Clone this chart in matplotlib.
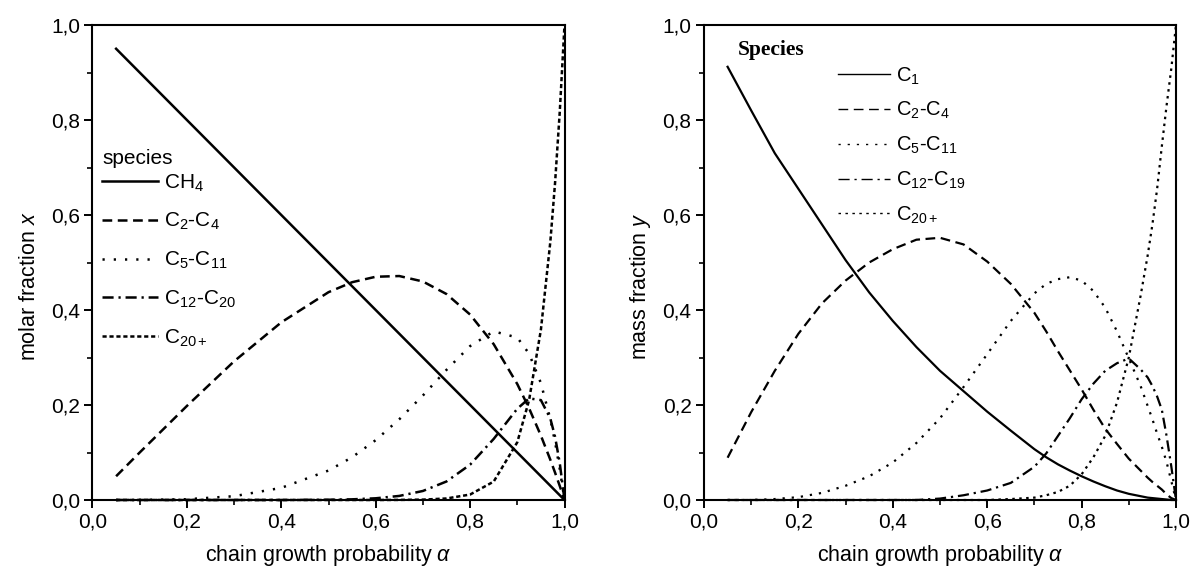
import matplotlib
matplotlib.use('Agg')
import matplotlib.pyplot as plt
from matplotlib.lines import Line2D

plt.rcParams['font.family'] = ['Liberation Sans', 'DejaVu Sans']
plt.rcParams['mathtext.fontset'] = 'custom'
plt.rcParams['mathtext.rm'] = 'Liberation Sans'
plt.rcParams['mathtext.it'] = 'Liberation Sans:italic'
plt.rcParams['mathtext.bf'] = 'Liberation Sans:bold'
plt.rcParams['lines.scale_dashes'] = False

# ---------------- data: left panel (molar fractions) ----------------
alpha_left = [0.05, 0.1, 0.2, 0.3, 0.4, 0.5, 0.55, 0.6, 0.65, 0.7, 0.75, 0.8,
              0.85, 0.9, 0.925, 0.95, 0.97, 0.98, 0.99, 1.0]
molar_ch4 = [0.95, 0.9, 0.8, 0.7, 0.6, 0.5, 0.45, 0.4, 0.35, 0.3, 0.25, 0.2,
             0.15, 0.1, 0.075, 0.05, 0.03, 0.02, 0.01, 0.0]
molar_c2_c4 = [0.05, 0.1, 0.198, 0.292, 0.374, 0.4375, 0.4585, 0.470, 0.4715, 0.460,
               0.4336, 0.3904, 0.328, 0.244, 0.193, 0.1355, 0.0847, 0.0576, 0.0294, 0.0]
molar_c5_c11 = [0.0, 0.0001, 0.0016, 0.008, 0.0256, 0.062, 0.090, 0.126, 0.170, 0.220,
                0.274, 0.324, 0.355, 0.342, 0.308, 0.246, 0.170, 0.122, 0.065, 0.0]
molar_c12_c20 = [0.0, 0.0, 0.0, 0.0, 0.0, 0.0005, 0.0014, 0.0036, 0.0086, 0.019,
                 0.039, 0.0744, 0.1286, 0.1922, 0.2139, 0.2103, 0.1715, 0.1331, 0.0774, 0.0]
molar_c20p = [0.0, 0.0, 0.0, 0.0, 0.0, 0.0, 0.0, 0.0, 0.0002, 0.0008,
              0.0032, 0.0115, 0.0388, 0.1216, 0.2103, 0.3585, 0.5438, 0.6676, 0.8179, 1.0]
labels_left = ['CH$_4$', 'C$_2$-C$_4$', 'C$_5$-C$_{11}$', 'C$_{12}$-C$_{20}$', 'C$_{20+}$']

# ---------------- data: right panel (mass fractions) ----------------
alpha_right = [0.05, 0.1, 0.15, 0.2, 0.25, 0.3, 0.35, 0.4, 0.45, 0.5, 0.55, 0.6, 0.65,
               0.7, 0.725, 0.75, 0.775, 0.8, 0.825, 0.85, 0.875, 0.9, 0.925, 0.94,
               0.95, 0.96, 0.97, 0.98, 0.99, 1.0]
mass_c1 = [0.912, 0.82, 0.73, 0.655, 0.58, 0.505, 0.437, 0.377, 0.322, 0.272, 0.229,
           0.186, 0.146, 0.107, 0.09, 0.075, 0.062, 0.05, 0.039, 0.029, 0.02, 0.013,
           0.008, 0.005, 0.004, 0.003, 0.002, 0.001, 0.0, 0.0]
mass_c2_c4 = [0.089, 0.185, 0.272, 0.35, 0.414, 0.462, 0.50, 0.528, 0.548, 0.552, 0.538,
              0.502, 0.455, 0.394, 0.355, 0.313, 0.273, 0.233, 0.19, 0.15, 0.118, 0.087,
              0.062, 0.047, 0.038, 0.03, 0.022, 0.012, 0.004, 0.0]
mass_c5_c11 = [0.0, 0.0, 0.002, 0.006, 0.015, 0.03, 0.05, 0.079, 0.12, 0.172, 0.238,
               0.307, 0.377, 0.435, 0.455, 0.465, 0.469, 0.462, 0.44, 0.405, 0.355,
               0.298, 0.24, 0.198, 0.17, 0.14, 0.112, 0.08, 0.04, 0.0]
mass_c12_c19 = [0.0, 0.0, 0.0, 0.0, 0.0, 0.0, 0.0, 0.0, 0.0, 0.003, 0.01, 0.02, 0.036,
                0.07, 0.098, 0.135, 0.172, 0.212, 0.245, 0.272, 0.288, 0.298, 0.275,
                0.258, 0.24, 0.218, 0.19, 0.135, 0.071, 0.0]
mass_c20p = [0.0, 0.0, 0.0, 0.0, 0.0, 0.0, 0.0, 0.0, 0.0, 0.0, 0.0, 0.0, 0.002, 0.005,
             0.01, 0.017, 0.03, 0.054, 0.09, 0.135, 0.205, 0.30, 0.43, 0.515, 0.58,
             0.655, 0.745, 0.83, 0.908, 1.0]
labels_right = ['C$_1$', 'C$_2$-C$_4$', 'C$_5$-C$_{11}$', 'C$_{12}$-C$_{19}$', 'C$_{20+}$']

major_ticks = [0.0, 0.2, 0.4, 0.6, 0.8, 1.0]
minor_ticks = [0.1, 0.3, 0.5, 0.7, 0.9]
tick_labels = ['0,0', '0,2', '0,4', '0,6', '0,8', '1,0']

# ---------------- figure ----------------
W, H = 1195, 577
fig = plt.figure(figsize=(W / 100, H / 100), dpi=100)
axL = fig.add_axes([92.5 / W, 77 / H, 472 / W, 475 / H])
axR = fig.add_axes([704 / W, 77 / H, 472 / W, 475 / H])

styles_left = [
    dict(ls='-', lw=1.8),
    dict(ls=(0, (7, 4)), lw=1.8),
    dict(ls=(0, (1.6, 6.5)), lw=1.8),
    dict(ls=(0, (8, 3.5, 1.6, 3.5)), lw=1.8),
    dict(ls=(0, (3, 2)), lw=1.8),
]
styles_right = [
    dict(ls='-', lw=1.6),
    dict(ls=(0, (7, 4)), lw=1.6),
    dict(ls=(0, (1.6, 5.0)), lw=1.6),
    dict(ls=(0, (8, 3.5, 1.6, 3.5)), lw=1.6),
    dict(ls=(0, (1.8, 3.2)), lw=1.6),
]

series_left = [molar_ch4, molar_c2_c4, molar_c5_c11, molar_c12_c20, molar_c20p]
series_right = [mass_c1, mass_c2_c4, mass_c5_c11, mass_c12_c19, mass_c20p]

for ys, lab, st in zip(series_left, labels_left, styles_left):
    axL.plot(alpha_left, ys, color='black', label=lab, clip_on=False, **st)

for ys, lab, st in zip(series_right, labels_right, styles_right):
    axR.plot(alpha_right, ys, color='black', label=lab, clip_on=False, **st)

for ax in (axL, axR):
    ax.set_xlim(0, 1)
    ax.set_ylim(0, 1)
    ax.set_xticks(major_ticks)
    ax.set_xticklabels(tick_labels)
    ax.set_yticks(major_ticks)
    ax.set_yticklabels(tick_labels)
    ax.set_xticks(minor_ticks, minor=True)
    ax.set_yticks(minor_ticks, minor=True)
    ax.tick_params(which='major', direction='out', length=6, width=1.4,
                   labelsize=15, pad=3, top=False, right=False)
    ax.tick_params(which='minor', direction='out', length=3.5, width=1.2,
                   top=False, right=False)
    for sp in ax.spines.values():
        sp.set_linewidth(1.5)
    ax.set_xlabel(r'chain growth probability $\alpha$', fontsize=15.5, labelpad=8)

axL.set_ylabel('molar fraction $x$', fontsize=15.5)
axR.set_ylabel('mass fraction $y$', fontsize=15.5)
axL.yaxis.set_label_coords(-0.112, 0.45)
axR.yaxis.set_label_coords(-0.108, 0.45)

# left legend: title drawn as text, entries as legend
axL.text(0.022, 0.72, 'species', transform=axL.transAxes, fontsize=15,
         va='center', ha='left')
axL.legend(loc='upper left', bbox_to_anchor=(0.02, 0.69),
           frameon=False, fontsize=15, handlelength=2.7,
           labelspacing=0.84, borderpad=0, borderaxespad=0, handletextpad=0.3)

# right legend (thin handles)
handlesR = [Line2D([], [], color='black', lw=1.0, ls=st['ls']) for st in styles_right]
axR.legend(handlesR, labels_right, loc='upper left', bbox_to_anchor=(0.284, 0.915),
           frameon=False, fontsize=14.5, handlelength=2.6, labelspacing=0.67,
           borderpad=0, borderaxespad=0, handletextpad=0.3)
axR.text(0.072, 0.948, 'Species', transform=axR.transAxes, fontsize=15.5,
         fontfamily='Liberation Serif', fontweight='bold', va='center', ha='left')

fig.savefig('out.png', dpi=100)
